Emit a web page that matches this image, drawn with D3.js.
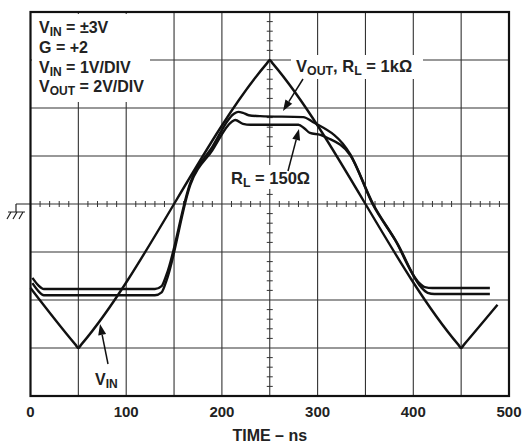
<!DOCTYPE html>
<html>
<head>
<meta charset="utf-8">
<script src="https://cdnjs.cloudflare.com/ajax/libs/d3/7.8.5/d3.min.js"></script>
<style>
body { margin: 0; background: #fff; }
svg { font-family: 'Liberation Sans', Arial, sans-serif; }
</style>
</head>
<body>
<div id="chart"></div>
<script>
// time in ns, level in scope divisions (0 = centre line)
var xTicks = [0, 100, 200, 300, 400, 500];
var vinTime = [0, 47, 50, 53, 247, 250, 253, 447, 450, 453, 488];
var vinLevel = [-1.75, -2.93, -3.0, -2.93, 2.93, 3.0, 2.93, -2.93, -3.0, -2.93, -2.1];
var out1kTime = [2, 8, 14, 130, 137, 142, 167, 190, 212, 217, 222, 228, 240, 285, 295, 334, 358, 381, 405, 412, 420, 480];
var out1kLevel = [-1.54, -1.69, -1.77, -1.77, -1.71, -1.48, 0.44, 1.19, 1.87, 1.92, 1.9, 1.85, 1.83, 1.81, 1.71, 1.04, 0, -0.75, -1.62, -1.73, -1.75, -1.75];
var out150Time = [2, 8, 14, 130, 137, 142, 167, 190, 210, 214, 222, 230, 280, 286, 292, 303, 310, 334, 358, 383, 408, 415, 422, 480];
var out150Level = [-1.65, -1.81, -1.9, -1.9, -1.84, -1.6, 0.4, 1.12, 1.71, 1.75, 1.67, 1.65, 1.65, 1.58, 1.48, 1.44, 1.38, 1.02, -0.02, -0.81, -1.73, -1.85, -1.875, -1.875];

var width = 525, height = 443;
var x = d3.scaleLinear().domain([0, 500]).range([30.5, 509]);
var y = d3.scaleLinear().domain([-4, 4]).range([396, 12]);

var svg = d3.select('#chart').append('svg')
	.attr('width', width)
	.attr('height', height);

var toPts = function (t, v) {
	return t.map(function (d, i) { return [d, v[i]]; });
};

// grid
svg.append('g').selectAll('line')
	.data(d3.range(50, 500, 50))
	.join('line')
	.attr('x1', function (d) { return x(d); })
	.attr('x2', function (d) { return x(d); })
	.attr('y1', y(4)).attr('y2', y(-4))
	.attr('stroke', '#333').attr('stroke-width', 1.1);
svg.append('g').selectAll('line')
	.data(d3.range(-3, 4, 1))
	.join('line')
	.attr('y1', function (d) { return y(d); })
	.attr('y2', function (d) { return y(d); })
	.attr('x1', x(0)).attr('x2', x(500))
	.attr('stroke', '#333').attr('stroke-width', 1.1);

// minor ticks on the centre lines
svg.append('g').selectAll('line')
	.data(d3.range(0, 500, 10).filter(function (d) { return d % 50 !== 0; }))
	.join('line')
	.attr('x1', function (d) { return x(d); })
	.attr('x2', function (d) { return x(d); })
	.attr('y1', y(0) - 3).attr('y2', y(0) + 3)
	.attr('stroke', '#333');
svg.append('g').selectAll('line')
	.data(d3.range(-4, 4, 0.2).filter(function (d) { return Math.abs(d - Math.round(d)) > 0.01; }))
	.join('line')
	.attr('y1', function (d) { return y(d); })
	.attr('y2', function (d) { return y(d); })
	.attr('x1', x(250) - 3).attr('x2', x(250) + 3)
	.attr('stroke', '#333');

// ground symbol
var gy = y(0);
svg.append('path')
	.attr('d', 'M16,' + gy + 'H' + x(0) + 'M16,' + gy + 'V' + (gy + 8) +
		'M8,' + (gy + 8) + 'H25' +
		'M11,' + (gy + 8) + 'L7,' + (gy + 15) +
		'M17,' + (gy + 8) + 'L13,' + (gy + 15) +
		'M23,' + (gy + 8) + 'L19,' + (gy + 15))
	.attr('fill', 'none').attr('stroke', '#222').attr('stroke-width', 1.2);

// frame
svg.append('rect')
	.attr('x', x(0)).attr('y', y(4))
	.attr('width', x(500) - x(0)).attr('height', y(-4) - y(4))
	.attr('fill', 'none').attr('stroke', '#111').attr('stroke-width', 2.2);

// white boxes under labels
var boxes = [[32, 14, 118, 88], [291, 55, 132, 24], [229, 165, 84, 24]];
svg.append('g').selectAll('rect')
	.data(boxes)
	.join('rect')
	.attr('x', function (d) { return d[0]; })
	.attr('y', function (d) { return d[1]; })
	.attr('width', function (d) { return d[2]; })
	.attr('height', function (d) { return d[3]; })
	.attr('fill', '#fff');

// traces
var line = d3.line()
	.x(function (d) { return x(d[0]); })
	.y(function (d) { return y(d[1]); })
	.curve(d3.curveMonotoneX);

svg.append('path').datum(toPts(vinTime, vinLevel))
	.attr('d', line).attr('fill', 'none').attr('stroke', '#111').attr('stroke-width', 2.4);
svg.append('path').datum(toPts(out1kTime, out1kLevel))
	.attr('d', line).attr('fill', 'none').attr('stroke', '#111').attr('stroke-width', 2.4);
svg.append('path').datum(toPts(out150Time, out150Level))
	.attr('d', line).attr('fill', 'none').attr('stroke', '#111').attr('stroke-width', 2.4);

// x axis labels
svg.append('g').selectAll('text')
	.data(xTicks)
	.join('text')
	.attr('x', function (d) { return x(d); })
	.attr('y', 417)
	.attr('text-anchor', 'middle')
	.attr('font-size', 15).attr('font-weight', 'bold').attr('fill', '#222')
	.text(function (d) { return d; });
svg.append('text')
	.attr('x', x(250)).attr('y', 441)
	.attr('text-anchor', 'middle')
	.attr('font-size', 16).attr('font-weight', 'bold').attr('fill', '#222')
	.text('TIME – ns');

// text with a subscript part: parts = [[text, sub?], ...]
var label = function (px, py, parts, size, weight) {
	var t = svg.append('text')
		.attr('x', px).attr('y', py)
		.attr('font-size', size).attr('font-weight', weight || 'bold').attr('fill', '#222');
	var down = false;
	parts.forEach(function (p) {
		var s = t.append('tspan').text(p[0]);
		if (p[1] && !down) { s.attr('dy', 3).attr('font-size', size * 0.75); down = true; }
		else if (!p[1] && down) { s.attr('dy', -3); down = false; }
	});
	return t;
};

label(39, 33, [['V'], ['IN', 1], [' = ±3V']], 16);
label(39, 53, [['G = +2']], 16);
label(39, 73, [['V'], ['IN', 1], [' = 1V/DIV']], 16);
label(39, 92, [['V'], ['OUT', 1], [' = 2V/DIV']], 16);
label(296, 72, [['V'], ['OUT', 1], [', R'], ['L', 1], [' = 1kΩ']], 16.5);
label(231, 184, [['R'], ['L', 1], [' = 150Ω']], 16.5);
label(95, 385, [['V'], ['IN', 1]], 16);

// arrows
var arrows = [[303, 79, 283, 111], [288, 171, 299, 129], [108, 364, 100, 324]];
arrows.forEach(function (a) {
	var ang = Math.atan2(a[3] - a[1], a[2] - a[0]);
	var len = 11, w = 4;
	var bx = a[2] - len * Math.cos(ang), by = a[3] - len * Math.sin(ang);
	svg.append('line')
		.attr('x1', a[0]).attr('y1', a[1]).attr('x2', bx).attr('y2', by)
		.attr('stroke', '#111').attr('stroke-width', 1.5);
	svg.append('path')
		.attr('d', 'M' + a[2] + ',' + a[3] +
			'L' + (bx + w * Math.sin(ang)) + ',' + (by - w * Math.cos(ang)) +
			'L' + (bx - w * Math.sin(ang)) + ',' + (by + w * Math.cos(ang)) + 'Z')
		.attr('fill', '#111');
});
</script>
</body>
</html>
